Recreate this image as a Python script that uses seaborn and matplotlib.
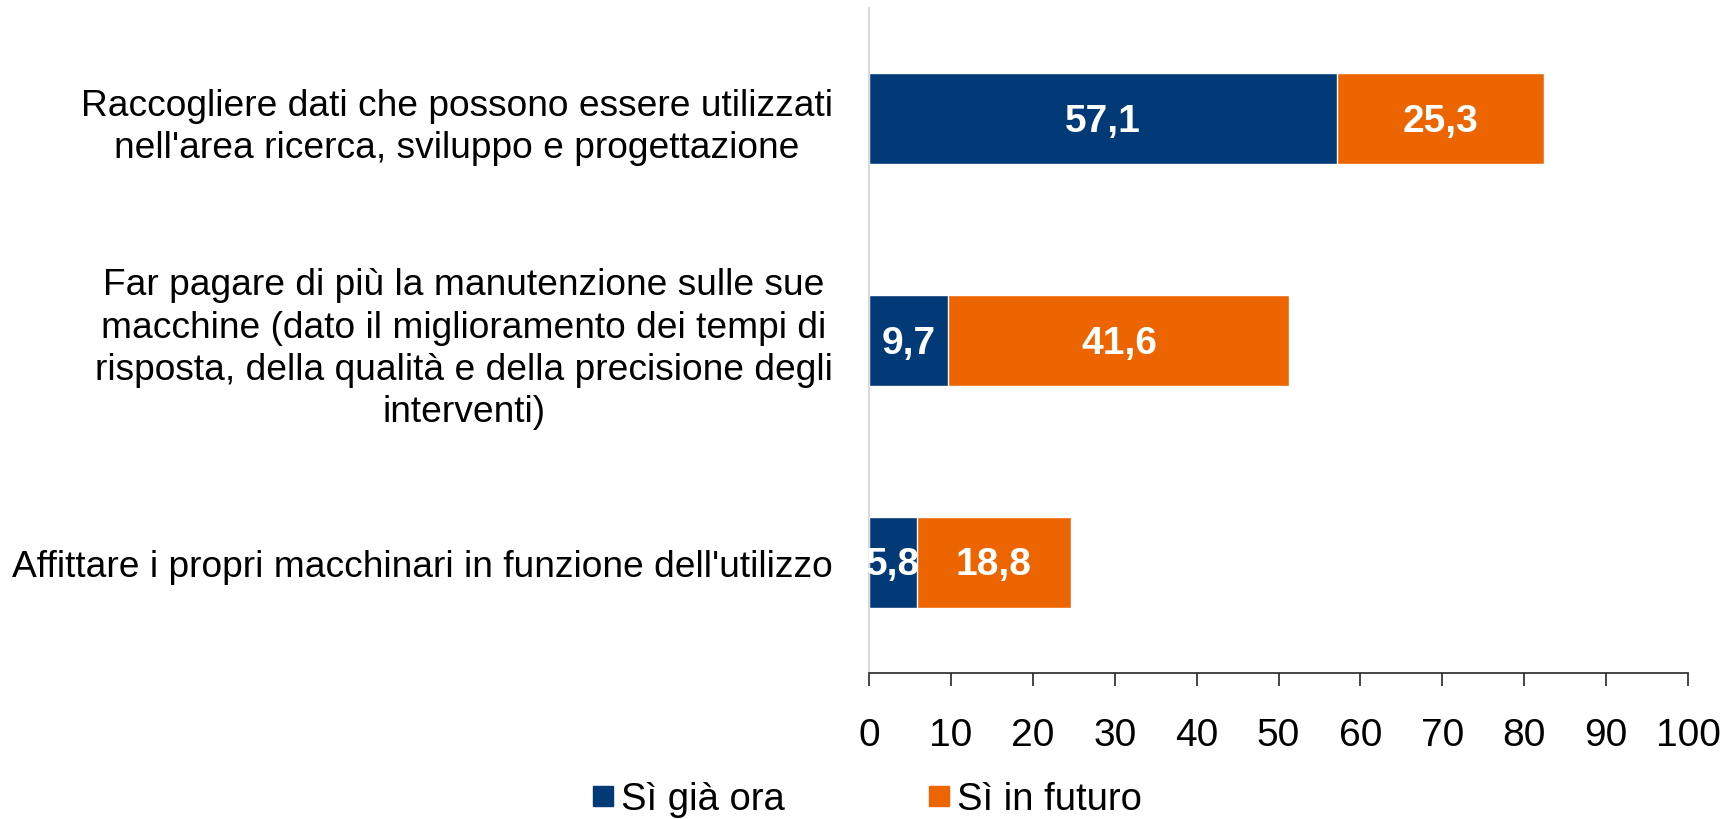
import matplotlib
matplotlib.use("Agg")
import matplotlib.pyplot as plt
from matplotlib.lines import Line2D
import seaborn as sns
import pandas as pd

# data
categories = [
    "Raccogliere dati che possono essere utilizzati\nnell'area ricerca, sviluppo e progettazione",
    "Far pagare di più la manutenzione sulle sue\nmacchine (dato il miglioramento dei tempi di\nrisposta, della qualità e della precisione degli\ninterventi)",
    "Affittare i propri macchinari in funzione dell'utilizzo",
]
si_gia_ora = [57.1, 9.7, 5.8]
si_in_futuro = [25.3, 41.6, 18.8]
series_names = ["Sì già ora", "Sì in futuro"]
x_ticks = [0, 10, 20, 30, 40, 50, 60, 70, 80, 90, 100]

BLUE = "#023A78"
ORANGE = "#EC6500"

df = pd.DataFrame({"cat": categories, "now": si_gia_ora, "fut": si_in_futuro})
df["total"] = df["now"] + df["fut"]

sns.set_theme(style="white")
plt.rcParams["font.family"] = ["Liberation Sans", "DejaVu Sans"]

fig, ax = plt.subplots(figsize=(17.36, 8.2), dpi=100)
fig.subplots_adjust(left=0.5006, right=0.9724, top=0.989, bottom=0.178)

# stacked bars: total (orange) first, then the blue part on top
sns.barplot(data=df, y="cat", x="total", color=ORANGE, width=0.41,
            saturation=1, ax=ax, orient="h")
sns.barplot(data=df, y="cat", x="now", color=BLUE, width=0.41,
            saturation=1, ax=ax, orient="h")

def fmt(v):
    return f"{v:.1f}".replace(".", ",")

for i, row in df.iterrows():
    ax.text(row["now"] / 2, i + 0.01, fmt(row["now"]), ha="center", va="center",
            color="white", fontsize=28, fontweight="bold")
    ax.text(row["now"] + row["fut"] / 2, i + 0.01, fmt(row["fut"]), ha="center",
            va="center", color="white", fontsize=28, fontweight="bold")

ax.set_xlim(0, 100)
ax.set_ylim(2.5, -0.5)
ax.set_xticks(x_ticks)
ax.set_xticklabels([str(t) for t in x_ticks])
ax.set_xlabel("")
ax.set_ylabel("")

ax.tick_params(axis="y", length=0, pad=26, labelsize=26.7, colors="black")
ax.tick_params(axis="x", length=9, width=1.2, pad=23, labelsize=28,
               color="#262626", labelcolor="black", direction="out")
for lab in ax.get_yticklabels():
    lab.set_multialignment("center")
    lab.set_linespacing(1.27)
ax.xaxis.set_ticks_position("bottom")

sns.despine(ax=ax, top=True, right=True)
ax.spines["left"].set_color("#D9D9D9")
ax.spines["left"].set_linewidth(1.5)
ax.spines["bottom"].set_color("#262626")
ax.spines["bottom"].set_linewidth(1.2)

handles = [Line2D([], [], marker="s", linestyle="", color=BLUE, markersize=14.5),
           Line2D([], [], marker="s", linestyle="", color=ORANGE, markersize=14.5)]
fig.legend(handles, series_names, loc="center", bbox_to_anchor=(0.5, 0.024),
           ncol=2, frameon=False, fontsize=27.5, handlelength=0.45,
           handletextpad=0.25, columnspacing=3.8, labelcolor="black")

fig.savefig("out.png", dpi=100)
